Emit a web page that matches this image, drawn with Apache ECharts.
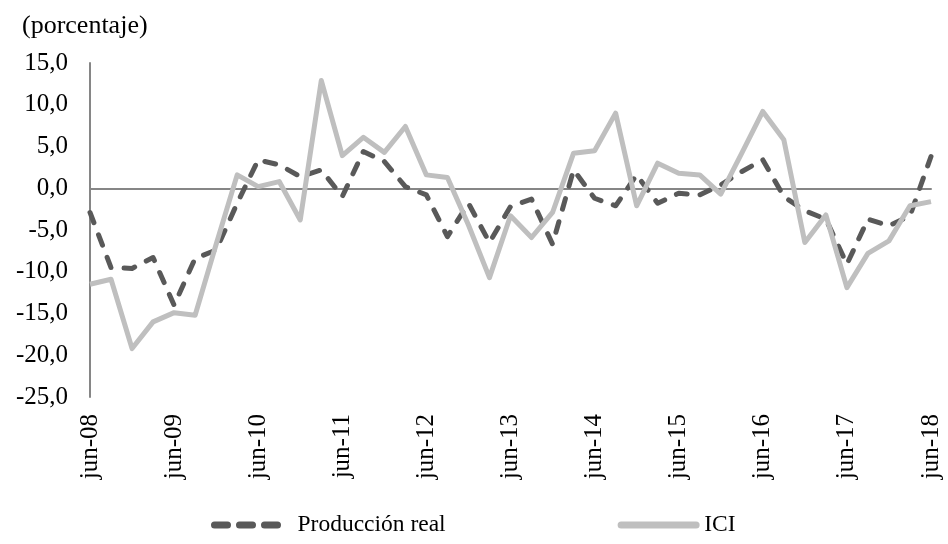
<!DOCTYPE html>
<html>
<head>
<meta charset="utf-8">
<script src="https://cdn.jsdelivr.net/npm/echarts@6/dist/echarts.min.js"></script>
<style>
html,body{margin:0;padding:0;background:#fff;}
#c{width:948px;height:544px;}
</style>
</head>
<body>
<div id="c"></div>
<script>
const categories = [
 'jun-08','sep-08','dic-08','mar-09','jun-09','sep-09','dic-09','mar-10',
 'jun-10','sep-10','dic-10','mar-11','jun-11','sep-11','dic-11','mar-12',
 'jun-12','sep-12','dic-12','mar-13','jun-13','sep-13','dic-13','mar-14',
 'jun-14','sep-14','dic-14','mar-15','jun-15','sep-15','dic-15','mar-16',
 'jun-16','sep-16','dic-16','mar-17','jun-17','sep-17','dic-17','mar-18',
 'jun-18'
];
const produccionReal = [-2.9, -9.5, -9.6, -8.3, -14.0, -8.4, -7.4, -1.8, 3.4, 2.8,
 1.4, 2.2, -1.0, 4.4, 3.2, 0.2, -0.8, -5.8, -1.8, -6.5,
 -2.2, -1.3, -6.7, 2.2, -1.2, -2.1, 1.6, -1.8, -0.6, -0.8,
 0.4, 2.0, 3.4, -1.0, -2.7, -3.7, -9.1, -3.7, -4.5, -3.3, 3.8];
const ici = [-11.5, -10.9, -19.2, -16.0, -14.9, -15.2, -6.7, 1.6, 0.2, 0.8,
 -3.8, 12.9, 3.9, 6.1, 4.3, 7.4, 1.6, 1.3, -4.4, -10.7,
 -3.3, -5.9, -2.9, 4.2, 4.5, 9.0, -2.1, 3.0, 1.8, 1.6,
 -0.7, 4.2, 9.2, 5.8, -6.5, -3.2, -11.9, -7.8, -6.3, -2.1, -1.6];
const yTicks = {min: -25, max: 15, step: 5};
const titleText = '(porcentaje)';
const seriesNames = ['Producción real', 'ICI'];

const FONT = '"Liberation Serif", "Times New Roman", serif';
const DARK = '#595959', LIGHT = '#bfbfbf';
const chart = echarts.init(document.getElementById('c'), null, {renderer: 'canvas'});
chart.setOption({
  animation: false,
  backgroundColor: '#ffffff',
  title: {
    text: titleText, left: 17, top: 8,
    textStyle: {fontFamily: FONT, fontSize: 26, fontWeight: 'normal', color: '#000'}
  },
  legend: {
    bottom: 2, left: 206,
    itemWidth: 75, itemHeight: 14, itemGap: 172,
    itemGap2: 0,
    textStyle: {fontFamily: FONT, fontSize: 23.5, color: '#000', padding: [0, 0, 0, 3]},
    itemStyle: {color: 'rgba(0,0,0,0)', borderWidth: 0, opacity: 0},
    data: [
      {name: seriesNames[0], lineStyle: {width: 7, type: [13, 12], cap: 'round', color: DARK}},
      {name: seriesNames[1], lineStyle: {width: 7, type: 'solid', cap: 'round', color: LIGHT}}
    ]
  },
  grid: {left: 90, right: 17, top: 63, bottom: 147},
  xAxis: {
    type: 'category', data: categories, boundaryGap: false,
    axisLine: {onZero: true, lineStyle: {color: '#868686', width: 2}},
    axisTick: {show: false},
    axisLabel: {
      interval: 3, rotate: 90, margin: 17,
      fontFamily: FONT, fontSize: 25, color: '#000'
    },
    splitLine: {show: false}
  },
  yAxis: {
    type: 'value', min: yTicks.min, max: yTicks.max, interval: yTicks.step,
    axisLine: {show: true, lineStyle: {color: '#868686', width: 2}},
    axisTick: {show: false},
    splitLine: {show: false},
    axisLabel: {
      margin: 22, fontFamily: FONT, fontSize: 25, color: '#000',
      formatter: v => v.toFixed(1).replace('.', ',')
    }
  },
  series: [
    {
      name: seriesNames[0], type: 'line', data: produccionReal,
      symbol: 'none',
      lineStyle: {color: DARK, width: 5, type: [11, 13], cap: 'round', join: 'round'},
      itemStyle: {color: DARK}
    },
    {
      name: seriesNames[1], type: 'line', data: ici,
      symbol: 'none',
      lineStyle: {color: LIGHT, width: 5, type: 'solid', join: 'round'},
      itemStyle: {color: LIGHT}
    }
  ]
});
</script>
</body>
</html>
